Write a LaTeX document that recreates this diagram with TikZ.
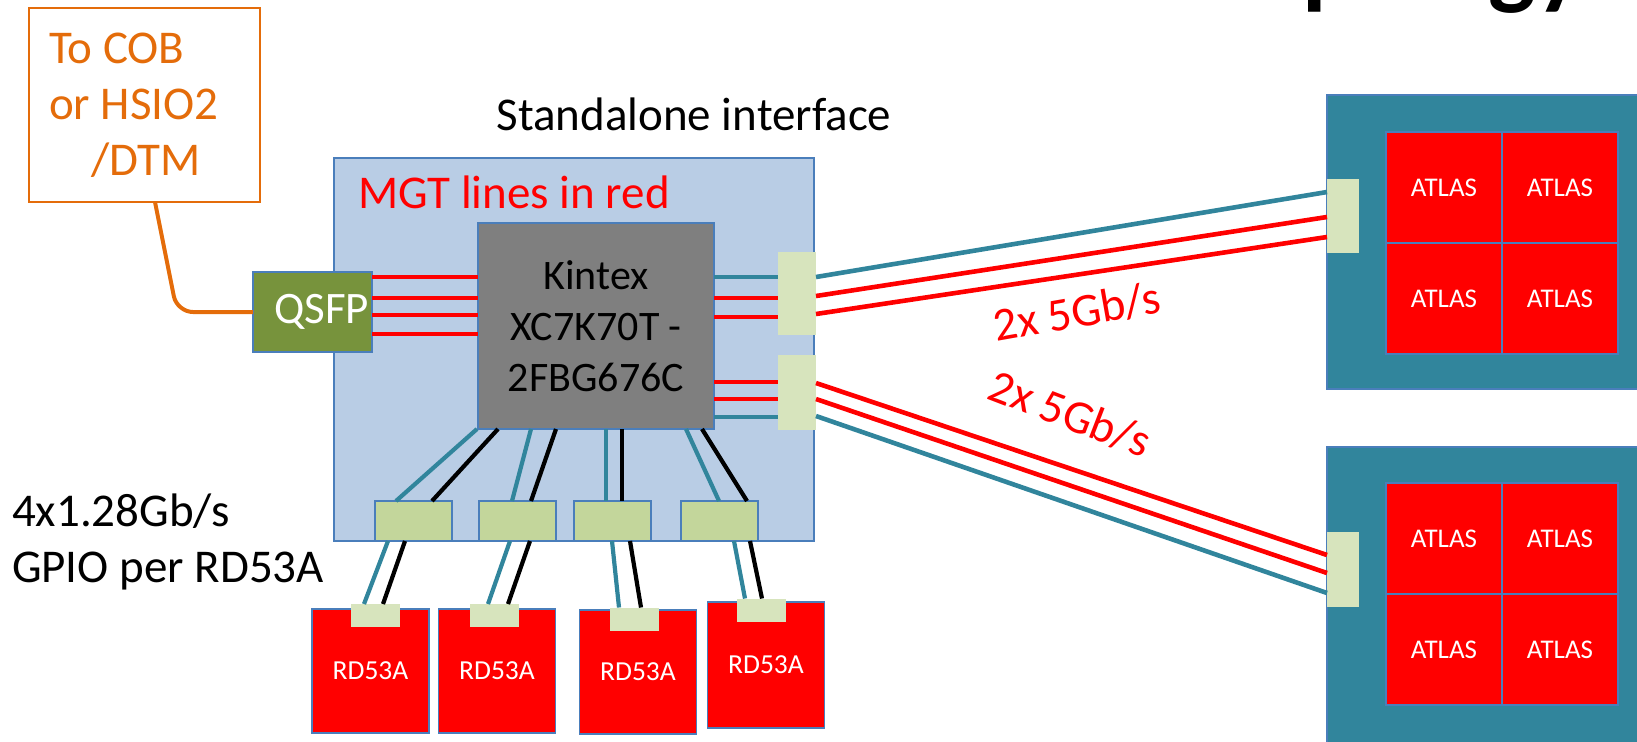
\documentclass[tikz,border=0pt]{standalone}
\usepackage{fontspec}
\setmainfont{Carlito}
\usetikzlibrary{positioning,calc}

\definecolor{cobor}{HTML}{E46C0A}
\definecolor{boardblue}{HTML}{B9CDE5}
\definecolor{edgeblue}{HTML}{4A7EBB}
\definecolor{qsfpgreen}{HTML}{77933C}
\definecolor{connlight}{HTML}{D7E4BD}
\definecolor{conngreen}{HTML}{C3D69B}
\definecolor{tealc}{HTML}{31859C}
\definecolor{chipgray}{HTML}{7F7F7F}

\begin{document}
\begin{tikzpicture}[x=0.5pt, y=-0.5pt, font=\fontsize{23.5}{28}\selectfont,
  every node/.style={inner sep=0pt, outer sep=0pt},
  board/.style={draw=edgeblue, fill=boardblue, line width=0.75pt},
  fpga/.style={draw=edgeblue, fill=chipgray, line width=0.75pt},
  qsfpbox/.style={draw=edgeblue, fill=qsfpgreen, line width=0.75pt, text=white},
  connbox/.style={fill=connlight},
  gpiobox/.style={draw=edgeblue, fill=conngreen, line width=0.75pt, minimum width=38.5pt, minimum height=20pt},
  padbox/.style={fill=connlight, minimum width=24.5pt, minimum height=11.5pt},
  rdchip/.style={draw=edgeblue, fill=red, line width=0.75pt, text=white, minimum width=58.5pt, minimum height=62pt, font=\fontsize{13.75}{16}\selectfont},
  atlasmod/.style={draw=edgeblue, fill=tealc, line width=0.75pt, minimum width=170pt},
  atlaschip/.style={draw=edgeblue, fill=red, line width=0.75pt, text=white, minimum width=58pt, minimum height=55.5pt, font=\fontsize{13.5}{16}\selectfont},
  mgt/.style={red, line width=2.3pt},
  slow/.style={tealc, line width=2.3pt},
  tealwire/.style={tealc, line width=2.1pt},
  blackwire/.style={black, line width=2.1pt},
  cobline/.style={cobor, line width=2pt, rounded corners=8pt}]
\useasboundingbox (0,0) rectangle (1637,741);
\clip (0,0) rectangle (1637,741);

% heading, only its lower edge is on the page
\node[anchor=base west, font=\bfseries\fontsize{50}{60}\selectfont] (heading) at (1208,-4) {Topology};

% standalone interface board
\node[board, minimum width=240pt, minimum height=191.5pt] (board) at (574,349.5) {};
\node[anchor=base] (boardname) at (694,130) {Standalone interface};
\node[anchor=base west, text=red] (mgtnote) at (358,208) {MGT lines in red};
\node[fpga, minimum width=118pt, minimum height=103pt, align=center, font=\fontsize{21}{25.5}\selectfont] (kintex) at (596,326) {Kintex\\XC7K70T -\\2FBG676C};
\node[qsfpbox, minimum width=59.5pt, minimum height=40pt, font=\fontsize{22.5}{26}\selectfont] (qsfp) at (312.5,312) {\hspace*{9pt}QSFP};
\node[connbox, minimum width=19pt, minimum height=41.5pt] (upconn) at (797,293.5) {};
\node[connbox, minimum width=19pt, minimum height=37.5pt] (lowconn) at (797,392.5) {};

% to COB
\node[draw=cobor, line width=0.75pt, text=cobor, anchor=north west, align=flush left, text width=95.5pt, inner xsep=10pt, minimum height=97pt] (cob) at (29,8) {To COB\\or HSIO2\\\hspace*{0.9em}/DTM};
\coordinate (bend) at ($(cob.south |- qsfp.west)+(32.5,0)$);
\draw[cobline] ($(cob.south)+(10.5,0)$) -- (bend) -- (qsfp.west);

% ATLAS modules
\node[atlasmod, minimum height=147pt, anchor=north west] (modtop) at (1327,95) {};
\node[atlasmod, minimum height=180pt, anchor=north west] (modbot) at (1327,447) {};
\node[connbox, minimum width=16pt, minimum height=37pt] (atop) at (1343,216) {};
\node[connbox, minimum width=16pt, minimum height=37.5pt] (abot) at (1343,569.5) {};
\foreach \m/\yo in {top/0, bot/351} {
  \node[atlaschip, anchor=north west] (\m a) at (1386,132+\yo) {ATLAS};
  \node[atlaschip, right=0pt of \m a] (\m b) {ATLAS};
  \node[atlaschip, below=0pt of \m a] (\m c) {ATLAS};
  \node[atlaschip, right=0pt of \m c] (\m d) {ATLAS};
}

% RD53A chips and their GPIO connectors
\node[gpiobox] (gp1) at (413.5,521) {};
\node[gpiobox] (gp2) at (517.5,521) {};
\node[gpiobox] (gp3) at (612.5,521) {};
\node[gpiobox] (gp4) at (719.5,521) {};
\node[rdchip] (rd1) at (370.5,671) {RD53A};
\node[rdchip] (rd2) at (497,671) {RD53A};
\node[rdchip] (rd3) at (638,672) {RD53A};
\node[rdchip, minimum height=63pt] (rd4) at (766,665) {RD53A};
\node[padbox] (pad1) at (375.5,615.5) {};
\node[padbox] (pad2) at (494.5,615.5) {};
\node[padbox] (pad3) at (634.5,619) {};
\node[padbox] (pad4) at (761.5,610) {};
\node[anchor=west, align=flush left] (gpio) at (12,542) {4x1.28Gb/s\\GPIO per RD53A};

% MGT lines
\foreach \dy in {-35,-14,3,22}
  \draw[mgt] ($(qsfp.east)+(0,\dy)$) -- ($(qsfp.east -| kintex.west)+(0,\dy)$);
\draw[slow] ($(kintex.east)+(0,-49)$) -- ($(kintex.east -| upconn.west)+(0,-49)$);
\foreach \dy in {-28,-9,56,73}
  \draw[mgt] ($(kintex.east)+(0,\dy)$) -- ($(kintex.east -| upconn.west)+(0,\dy)$);
\draw[slow] ($(kintex.east)+(0,91)$) -- ($(kintex.east -| lowconn.west)+(0,91)$);

% links to the modules
\draw[slow] ($(upconn.east)+(0,-16.5)$) -- ($(atop.west)+(0,-24)$);
\draw[mgt] ($(upconn.east)+(0,2.5)$) -- ($(atop.west)+(0,1)$);
\draw[mgt] ($(upconn.east)+(0,20.5)$) -- ($(atop.west)+(0,21)$);
\draw[mgt] ($(lowconn.east)+(0,-9.5)$) -- ($(abot.west)+(0,-14.5)$);
\draw[mgt] ($(lowconn.east)+(0,6.5)$) -- ($(abot.west)+(0,3.5)$);
\draw[slow] ($(lowconn.east)+(0,23.5)$) -- ($(abot.west)+(0,23.5)$);
\node[rotate=10, text=red] (rateup) at (1077,312) {2x 5Gb/s};
\node[rotate=-21, text=red] (ratelow) at (1070,414) {2x 5Gb/s};

% GPIO wires
\foreach \g/\ta/\tb/\ba/\bb in {1/-119/-17.5/-98/18.5, 2/-65/-5.5/-40/13.5, 3/10/-6.5/26/9.5, 4/90/-0.5/106/27.5} {
  \draw[tealwire] ($(kintex.south)+(\ta,0)$) -- ($(gp\g.north)+(\tb,0)$);
  \draw[blackwire] ($(kintex.south)+(\ba,0)$) -- ($(gp\g.north)+(\bb,0)$);
}
\foreach \g/\ta/\tb/\ba/\bb in {1/-25.5/-11.5/-8.5/7.5, 2/-7.5/-6.5/12.5/13.5, 3/-0.5/-15.5/17.5/6.5, 4/14.5/-16.5/30.5/0.5} {
  \draw[tealwire] ($(gp\g.south)+(\ta,0)$) -- ($(pad\g.north)+(\tb,0)$);
  \draw[blackwire] ($(gp\g.south)+(\ba,0)$) -- ($(pad\g.north)+(\bb,0)$);
}
\end{tikzpicture}
\end{document}
